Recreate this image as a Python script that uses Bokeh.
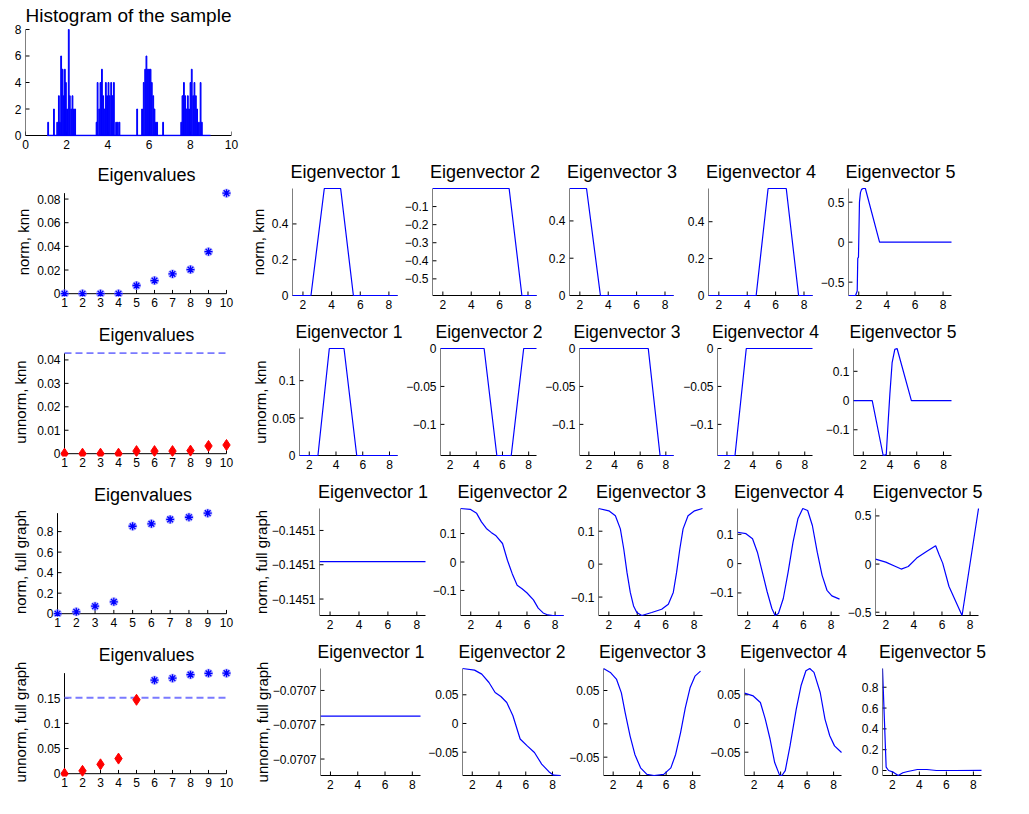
from bokeh.plotting import figure
from bokeh.layouts import column, row
from bokeh.models import Range1d, FixedTicker, CustomJSTickFormatter
from bokeh.embed import file_html
from bokeh.resources import INLINE

FONT = "Liberation Sans"
BLUE = "#0000ff"

# ---------------- data ----------------
hist_centers = [1.10, 1.38, 1.54, 1.62, 1.67, 1.73, 1.80, 1.86, 1.91, 1.96, 2.02, 2.10, 2.15, 2.22, 2.28, 2.35, 2.41,
                3.45, 3.50, 3.58, 3.64, 3.71, 3.77, 3.84, 3.90, 3.96, 4.03, 4.09, 4.16, 4.22, 4.29, 4.40, 4.48, 4.56,
                5.42, 5.66, 5.74, 5.81, 5.87, 5.94, 6.00, 6.07, 6.13, 6.20, 6.26, 6.33, 6.39, 6.68,
                7.56, 7.62, 7.69, 7.75, 7.82, 7.88, 7.94, 8.01, 8.07, 8.14, 8.20, 8.27, 8.33, 8.42, 8.50, 8.56]
hist_counts = [1, 2, 1, 3, 1, 6, 5, 3, 5, 4, 2, 8, 3, 2, 3, 2, 2,
               1, 4, 2, 4, 5, 3, 2, 4, 3, 4, 3, 4, 3, 4, 1, 1, 1,
               2, 2, 4, 5, 6, 5, 5, 5, 4, 3, 2, 1, 1, 1,
               1, 3, 4, 3, 2, 3, 2, 4, 5, 3, 4, 3, 2, 1, 4, 1]
hist_support = [1.05, 8.98]
hist_bin_width = 0.04

ev_index = [1, 2, 3, 4, 5, 6, 7, 8, 9, 10]
eig_norm_knn = [0, 0, 0, 0, 0.0069, 0.0111, 0.0167, 0.0204, 0.0355, 0.085]
eig_unnorm_knn = [0, 0, 0, 0, 0.0011, 0.0011, 0.0011, 0.0013, 0.0033, 0.0037]
thr_unnorm_knn = 0.0429
eig_norm_full = [0, 0.018, 0.073, 0.116, 0.852, 0.876, 0.919, 0.940, 0.980]
eig_unnorm_full = [0, 0.0056, 0.0186, 0.030, 0.147, 0.186, 0.190, 0.197, 0.1996, 0.200]
thr_unnorm_full = 0.151

sample_lo, sample_hi = 1.27, 8.6

# row 1: normalized, knn graph
nk1_x = [1.27, 2.56, 3.49, 4.63, 5.52, 8.6]
nk1_y = [0, 0, 0.598, 0.598, 0, 0]
nk2_x = [1.27, 6.67, 7.57, 8.6]
nk2_y = [0, 0, -0.592, -0.592]
nk3_x = [1.27, 2.47, 3.45, 8.6]
nk3_y = [0.574, 0.574, 0, 0]
nk4_x = [1.27, 4.63, 5.47, 6.75, 7.62, 8.6]
nk4_y = [0, 0, 0.58, 0.58, 0, 0]
nk5_x = [1.27, 1.77, 1.89, 1.93, 1.98, 2.05, 2.12, 2.2, 2.31, 2.47, 3.48, 8.6]
nk5_y = [-0.667, -0.667, -0.61, -0.2, -0.19, 0.5, 0.62, 0.66, 0.671, 0.671, 0, 0]

# row 2: unnormalized, knn graph
uk1_x = [1.27, 2.65, 3.5, 4.6, 5.55, 8.6]
uk1_y = [0, 0, 0.143, 0.143, 0, 0]
uk2_x = [1.27, 4.6, 5.57, 6.67, 7.62, 8.6]
uk2_y = [0, 0, -0.141, -0.141, 0, 0]
uk3_x = [1.27, 6.63, 7.55, 8.6]
uk3_y = [0, 0, -0.141, -0.141]
uk4_x = [1.27, 2.62, 3.49, 8.6]
uk4_y = [-0.141, -0.141, 0, 0]
uk5_x = [1.27, 2.67, 3.49, 3.72, 3.86, 3.99, 4.16, 4.36, 4.53, 5.6, 8.6]
uk5_y = [0, 0, -0.188, -0.185, -0.075, 0.022, 0.13, 0.175, 0.178, 0, 0]

# row 3: normalized, full graph
nf1_value = -0.1451
nf1_x = [1.27, 8.6]
nf2_x = [1.27, 1.96, 2.42, 2.76, 3.11, 3.45, 3.80, 4.26, 4.61, 4.95, 5.30, 5.65, 5.99, 6.46, 6.80, 7.15, 7.49, 7.84, 8.6]
nf2_y = [0.188, 0.185, 0.171, 0.141, 0.118, 0.104, 0.092, 0.065, 0.006, -0.041, -0.082, -0.094, -0.108, -0.133, -0.162, -0.179, -0.186, -0.188, -0.188]
nf3_x = [1.27, 2.0, 2.46, 2.81, 3.05, 3.28, 3.51, 3.74, 3.97, 4.32, 5.02, 5.72, 6.19, 6.54, 6.77, 7.0, 7.23, 7.58, 8.04, 8.6]
nf3_y = [0.169, 0.162, 0.147, 0.107, 0.046, -0.026, -0.086, -0.127, -0.147, -0.156, -0.147, -0.137, -0.122, -0.086, -0.026, 0.046, 0.107, 0.147, 0.162, 0.169]
nf4_x = [1.27, 1.88, 2.35, 2.70, 3.05, 3.40, 3.74, 3.97, 4.21, 4.56, 4.91, 5.26, 5.61, 5.96, 6.31, 6.65, 7.0, 7.35, 7.70, 8.05, 8.6]
nf4_y = [0.107, 0.102, 0.085, 0.039, -0.028, -0.096, -0.153, -0.177, -0.170, -0.119, -0.028, 0.073, 0.153, 0.188, 0.181, 0.130, 0.039, -0.040, -0.091, -0.110, -0.121]
nf5_x = [1.27, 2.0, 2.7, 3.1, 3.6, 4.2, 4.9, 5.55, 5.8, 6.05, 6.5, 7.43, 8.6]
nf5_y = [0.052, 0.02, -0.025, -0.052, -0.025, 0.0625, 0.131, 0.19, 0.097, 0.01, -0.233, -0.534, 0.577]

# row 4: unnormalized, full graph
uf1_value = -0.0707
uf1_x = [1.27, 8.6]
uf2_x = [1.27, 2.17, 2.71, 3.25, 3.71, 4.14, 4.58, 5.04, 5.58, 6.11, 6.65, 7.19, 7.73, 8.08, 8.6]
uf2_y = [0.0958, 0.093, 0.086, 0.0714, 0.054, 0.047, 0.0366, 0.0134, -0.027, -0.039, -0.0505, -0.0707, -0.084, -0.090, -0.0906]
uf3_x = [1.27, 1.82, 2.26, 2.62, 2.91, 3.28, 3.64, 4.07, 4.55, 5.09, 5.82, 6.36, 6.72, 7.09, 7.45, 7.81, 8.18, 8.6]
uf3_y = [0.083, 0.0765, 0.0666, 0.0465, 0.0165, -0.0184, -0.0459, -0.066, -0.0759, -0.0775, -0.0759, -0.066, -0.0459, -0.0135, 0.024, 0.054, 0.0715, 0.079]
uf4_x = [1.27, 1.93, 2.47, 2.84, 3.20, 3.55, 3.92, 4.10, 4.35, 4.71, 5.18, 5.54, 5.91, 6.20, 6.52, 6.99, 7.35, 7.71, 8.07, 8.6]
uf4_y = [0.053, 0.048, 0.0366, 0.0077, -0.027, -0.068, -0.090, -0.0906, -0.082, -0.039, 0.025, 0.0657, 0.0918, 0.0958, 0.089, 0.054, 0.0077, -0.0214, -0.039, -0.0505]
uf5_x = [1.27, 1.54, 1.72, 2.07, 2.43, 2.78, 3.14, 3.85, 4.56, 5.26, 6.68, 8.6]
uf5_y = [0.98, 0.032, 0.0, -0.016, -0.048, -0.022, -0.0096, 0.0096, 0.0096, 0.0, 0.0, 0.001]

# tick labels
hist_xticks = [0, 2, 4, 6, 8, 10]
hist_yticks = [0, 2, 4, 6, 8]
vec_xticks = [2, 4, 6, 8]

FMT = CustomJSTickFormatter(code="""
const v = Math.round(tick * 1e6) / 1e6;
return String(v).replace('-', '\\u2212');
""")


def make_panel(fig_x, row_y, ax_x, ax_y, xlim, ylim, pads, xticks, yticks, title=None, title_standoff=0,
               title_size="18px", ylabel=None, ylabel_standoff=0):
    pl, pr, pt, pb = pads
    fx0, fx1 = fig_x
    top, bottom = row_y
    axl, axr = ax_x
    axt, axb = ax_y
    sx = (xlim[1] - xlim[0]) / (axr - axl)
    sy = (ylim[1] - ylim[0]) / (axb - axt)
    p = figure(width=fx1 - fx0, height=bottom - top,
               min_border_left=axl - pl - fx0, min_border_right=fx1 - axr - pr,
               min_border_top=axt - pt - top, min_border_bottom=bottom - axb - pb,
               x_range=Range1d(xlim[0] - pl * sx, xlim[1] + pr * sx),
               y_range=Range1d(ylim[0] - pb * sy, ylim[1] + pt * sy),
               output_backend="svg", toolbar_location=None, tools="")
    p.outline_line_color = None
    p.xgrid.visible = False
    p.ygrid.visible = False
    p.xaxis.ticker = FixedTicker(ticks=xticks)
    p.yaxis.ticker = FixedTicker(ticks=yticks)
    for ax in (p.xaxis[0], p.yaxis[0]):
        ax.axis_line_color = None
        ax.major_tick_line_color = None
        ax.major_tick_in = 0
        ax.major_tick_out = 0
        ax.minor_tick_line_color = None
        ax.major_label_text_font = FONT
        ax.major_label_text_font_size = "12px"
        ax.major_label_text_color = "black"
        ax.formatter = FMT
    p.xaxis.major_label_standoff = max(0, 4 - pb)
    p.yaxis.major_label_standoff = max(0, 4 - pl)
    # axis lines and inward ticks drawn at the data limits
    p.line([xlim[0], xlim[1]], [ylim[0], ylim[0]], line_color="black", line_width=1)
    p.line([xlim[0], xlim[0]], [ylim[0], ylim[1]], line_color="black", line_width=1)
    p.segment(x0=xticks, y0=[ylim[0]] * len(xticks), x1=xticks, y1=[ylim[0] + 4 * sy] * len(xticks),
              line_color="black", line_width=1)
    p.segment(x0=[xlim[0]] * len(yticks), y0=yticks, x1=[xlim[0] + 4 * sx] * len(yticks), y1=yticks,
              line_color="black", line_width=1)
    if title:
        p.title.text = title
        p.title.align = "center"
        p.title.text_font = FONT
        p.title.text_font_size = title_size
        p.title.text_font_style = "normal"
        p.title.text_color = "black"
        p.title.standoff = title_standoff
    if ylabel:
        p.yaxis.axis_label = ylabel
        p.yaxis.axis_label_text_font = FONT
        p.yaxis.axis_label_text_font_size = "15px"
        p.yaxis.axis_label_text_font_style = "normal"
        p.yaxis.axis_label_text_color = "black"
        p.yaxis.axis_label_standoff = ylabel_standoff
    return p


# ---------------- histogram ----------------
hist = make_panel((0, 250), (0, 154), (25, 231), (28, 135), (0, 10), (0, max(hist_counts)), (0, 0, 1, 1),
                  hist_xticks, hist_yticks, title="Histogram of the sample", title_standoff=5, title_size="19px")
hist.line(hist_support, [0, 0], line_color=BLUE, line_width=1.5)
hist.vbar(x=hist_centers, top=hist_counts, width=hist_bin_width, fill_color=BLUE, line_color=BLUE, line_width=1)

# ---------------- rows of eigen panels ----------------
rows_spec = [
    dict(row_y=(154, 314), ax_y=(188, 295), bounds=[0, 240, 401, 543, 681, 817, 1029], tsize="18px",
         ax_x=[(64, 226), (292, 397), (431, 536), (569, 673), (708, 812), (847, 951)],
         ylabel="norm, knn", eig=eig_norm_knn, thr=None, eig_ticks=[0, 0.02, 0.04, 0.06, 0.08], eig_top=0.085,
         lab_sd=(2, 2),
         vecs=[(nk1_x, nk1_y, [0, 0.2, 0.4]), (nk2_x, nk2_y, [-0.5, -0.4, -0.3, -0.2, -0.1]),
               (nk3_x, nk3_y, [0, 0.2, 0.4]), (nk4_x, nk4_y, [0, 0.2, 0.4]), (nk5_x, nk5_y, [-0.5, 0, 0.5])]),
    dict(row_y=(314, 474), ax_y=(348, 455), bounds=[0, 240, 403, 542, 680, 821, 1029], tsize="17.5px",
         ax_x=[(64, 226), (299, 397), (438, 536), (576, 673), (715, 812), (853, 951)],
         ylabel="unnorm, knn", eig=eig_unnorm_knn, thr=thr_unnorm_knn, eig_ticks=[0, 0.01, 0.02, 0.03, 0.04],
         eig_top=thr_unnorm_knn, lab_sd=(5, 0),
         vecs=[(uk1_x, uk1_y, [0, 0.05, 0.1]), (uk2_x, uk2_y, [-0.1, -0.05, 0]),
               (uk3_x, uk3_y, [-0.1, -0.05, 0]), (uk4_x, uk4_y, [-0.1, -0.05, 0]), (uk5_x, uk5_y, [-0.1, 0, 0.1])]),
    dict(row_y=(474, 634), ax_y=(508, 615), bounds=[0, 240, 429, 567, 706, 844, 1029], tsize="18px",
         ax_x=[(57, 226), (319, 425), (458, 563), (596, 702), (735, 839), (873, 978)],
         ylabel="norm, full graph", eig=eig_norm_full, thr=None, eig_ticks=[0, 0.2, 0.4, 0.6, 0.8],
         eig_top=max(eig_norm_full), lab_sd=(5, -1),
         vecs=[(nf1_x, [nf1_value + 0.09e-8] * 2, None), (nf2_x, nf2_y, [-0.1, 0, 0.1]),
               (nf3_x, nf3_y, [-0.1, 0, 0.1]), (nf4_x, nf4_y, [-0.1, 0, 0.1]), (nf5_x, nf5_y, [-0.5, 0, 0.5])],
         const=nf1_value),
    dict(row_y=(634, 794), ax_y=(668, 775), bounds=[0, 240, 425, 566, 707, 848, 1029], tsize="17.5px",
         ax_x=[(64, 226), (320, 420), (460, 560), (601, 700), (742, 841), (882, 981)],
         ylabel="unnorm, full graph", eig=eig_unnorm_full, thr=thr_unnorm_full, eig_ticks=[0, 0.05, 0.1, 0.15],
         eig_top=max(eig_unnorm_full), lab_sd=(5, -1),
         vecs=[(uf1_x, [uf1_value + 0.25e-8] * 2, None), (uf2_x, uf2_y, [-0.05, 0, 0.05]),
               (uf3_x, uf3_y, [-0.05, 0, 0.05]), (uf4_x, uf4_y, [-0.05, 0, 0.05]), (uf5_x, uf5_y, [0, 0.2, 0.4, 0.6, 0.8])],
         const=uf1_value),
]

layout_items = [hist]
for spec in rows_spec:
    b = spec["bounds"]
    figs = []
    ev = make_panel((b[0], b[1]), spec["row_y"], spec["ax_x"][0], spec["ax_y"], (1, 10), (0, spec["eig_top"]),
                    (4, 6, 6, 3), ev_index, spec["eig_ticks"], title="Eigenvalues", title_standoff=6,
                    title_size=spec["tsize"], ylabel=spec["ylabel"], ylabel_standoff=spec["lab_sd"][0])
    vals = spec["eig"]
    idx = ev_index[:len(vals)]
    thr = spec["thr"]
    if thr is not None:
        ev.line([ev_index[0], ev_index[-1]], [thr, thr], line_color="#7a7aff", line_width=1.8, line_dash="7 4")
        lo = [(i, v) for i, v in zip(idx, vals) if v <= thr]
        hi = [(i, v) for i, v in zip(idx, vals) if v > thr]
    else:
        lo = []
        hi = list(zip(idx, vals))
    if hi:
        ev.scatter([h[0] for h in hi], [h[1] for h in hi], marker="asterisk", size=9, line_color="#8c8cff",
                   line_width=3, line_alpha=0.6)
        ev.scatter([h[0] for h in hi], [h[1] for h in hi], marker="asterisk", size=8, line_color=BLUE,
                   line_width=1.3)
    if lo:
        ev.scatter([h[0] for h in lo], [h[1] for h in lo], marker="diamond", size=11, fill_color="red",
                   line_color="red")
    figs.append(ev)
    for k, (vx, vy, yt) in enumerate(spec["vecs"]):
        if yt is None:
            c = spec["const"]
            ylim = (c - 1.48e-8, c + 1.64e-8)
            yt = [c - 1e-8, c, c + 1e-8]
        else:
            ylim = (min(vy), max(vy))
        p = make_panel((b[k + 1], b[k + 2]), spec["row_y"], spec["ax_x"][k + 1], spec["ax_y"],
                       (sample_lo, sample_hi), ylim, (0, 1, 1, 1), vec_xticks, yt,
                       title="Eigenvector %d" % (k + 1), title_standoff=11, title_size=spec["tsize"],
                       ylabel=spec["ylabel"] if k == 0 else None, ylabel_standoff=spec["lab_sd"][1])
        p.line(vx, vy, line_color=BLUE, line_width=1.2)
        figs.append(p)
    layout_items.append(row(*figs, spacing=0))

page = column(*layout_items, spacing=0)
open("out.html", "w").write(file_html(page, INLINE))
